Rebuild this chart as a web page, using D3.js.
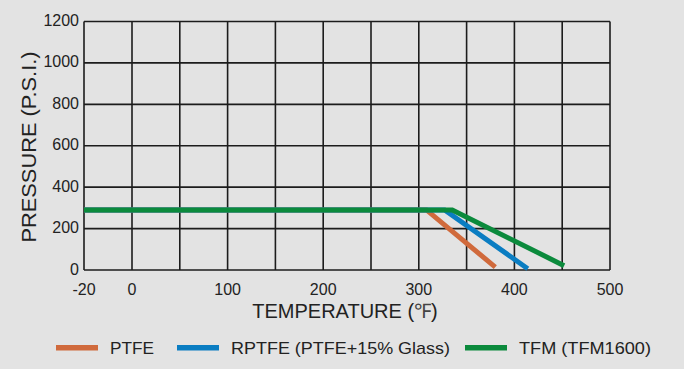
<!DOCTYPE html>
<html><head><meta charset="utf-8">
<script src="https://cdn.jsdelivr.net/npm/d3@7"></script>
<style>
html,body{margin:0;padding:0;background:#e3e3e3;}
svg{display:block;}
text{font-family:"Liberation Sans",Arial,sans-serif;fill:#222;}
</style></head>
<body>
<svg id="chart" width="684" height="369"></svg>
<script>
const xTickValues = [-20, 0, 100, 200, 300, 400, 500];
const xGridValues = [-20, 0, 50, 100, 150, 200, 250, 300, 350, 400, 450, 500];
const yTickValues = [0, 200, 400, 600, 800, 1000, 1200];
const seriesNames = ["PTFE", "RPTFE (PTFE+15% Glass)", "TFM (TFM1600)"];
const seriesColors = ["#d06a3c", "#0a7dc2", "#0b8a3c"];
const ptfeTemp = [-20, 308, 380];
const ptfePsi = [290, 290, 14];
const rptfeTemp = [-20, 327, 414];
const rptfePsi = [290, 290, 6];
const tfmTemp = [-20, 335, 452];
const tfmPsi = [290, 290, 21];

const series = [
  {name: seriesNames[0], color: seriesColors[0], pts: ptfeTemp.map((t,i)=>[t, ptfePsi[i]])},
  {name: seriesNames[1], color: seriesColors[1], pts: rptfeTemp.map((t,i)=>[t, rptfePsi[i]])},
  {name: seriesNames[2], color: seriesColors[2], pts: tfmTemp.map((t,i)=>[t, tfmPsi[i]])}
];

const svg = d3.select("#chart");
const x = d3.scaleLinear().domain([-20, 0, 500]).range([84, 132, 610]);
const y = d3.scaleLinear().domain([0, 1200]).range([270, 21.5]);

const grid = svg.append("g").attr("stroke", "#1c1c1c").attr("stroke-width", 1.6);
grid.selectAll("line.v").data(xGridValues).join("line").attr("class","v")
  .attr("x1", d=>x(d)).attr("x2", d=>x(d)).attr("y1", y(1200)).attr("y2", y(0));
grid.selectAll("line.h").data(yTickValues).join("line").attr("class","h")
  .attr("x1", x(-20)).attr("x2", x(500)).attr("y1", d=>y(d)).attr("y2", d=>y(d));

// tick labels
svg.append("g").selectAll("text").data(xTickValues).join("text")
  .attr("x", d=>x(d)).attr("y", 295).attr("text-anchor","middle")
  .attr("font-size", 16).text(d=>d);
svg.append("g").selectAll("text").data(yTickValues).join("text")
  .attr("x", 79).attr("y", d=>y(d)+4.5).attr("text-anchor","end")
  .attr("font-size", 16).text(d=>d);

// lines
const line = d3.line().x(d=>x(d[0])).y(d=>y(d[1]));
svg.append("g").selectAll("path").data(series).join("path")
  .attr("d", d=>line(d.pts)).attr("fill","none")
  .attr("stroke", d=>d.color).attr("stroke-width", 5)
  .attr("stroke-linejoin","miter");

// axis titles
const xt = svg.append("text").attr("x", 345).attr("y", 318).attr("text-anchor","middle")
  .attr("font-size", 20);
xt.append("tspan").text("TEMPERATURE (");
xt.append("tspan").attr("font-family","\"Liberation Serif\",serif").attr("fill","#444").text("℉");
xt.append("tspan").text(")");

svg.append("text").attr("transform","translate(36,147) rotate(-90)")
  .attr("text-anchor","middle").attr("font-size", 20)
  .attr("textLength", 191).attr("lengthAdjust","spacingAndGlyphs")
  .text("PRESSURE (P.S.I.)");

// legend
const legX = [56, 177, 465];
const legTextW = [44, 219, 132];
const leg = svg.append("g").selectAll("g").data(series).join("g")
  .attr("transform", (d,i)=>`translate(${legX[i]},0)`);
leg.append("rect").attr("x",0).attr("y",345).attr("width",42).attr("height",5.5)
  .attr("fill", d=>d.color);
leg.append("text").attr("x", 54).attr("y", 354)
  .attr("font-size", 17)
  .attr("textLength", (d,i)=>legTextW[i]).attr("lengthAdjust","spacingAndGlyphs")
  .text(d=>d.name);
</script>
</body></html>
